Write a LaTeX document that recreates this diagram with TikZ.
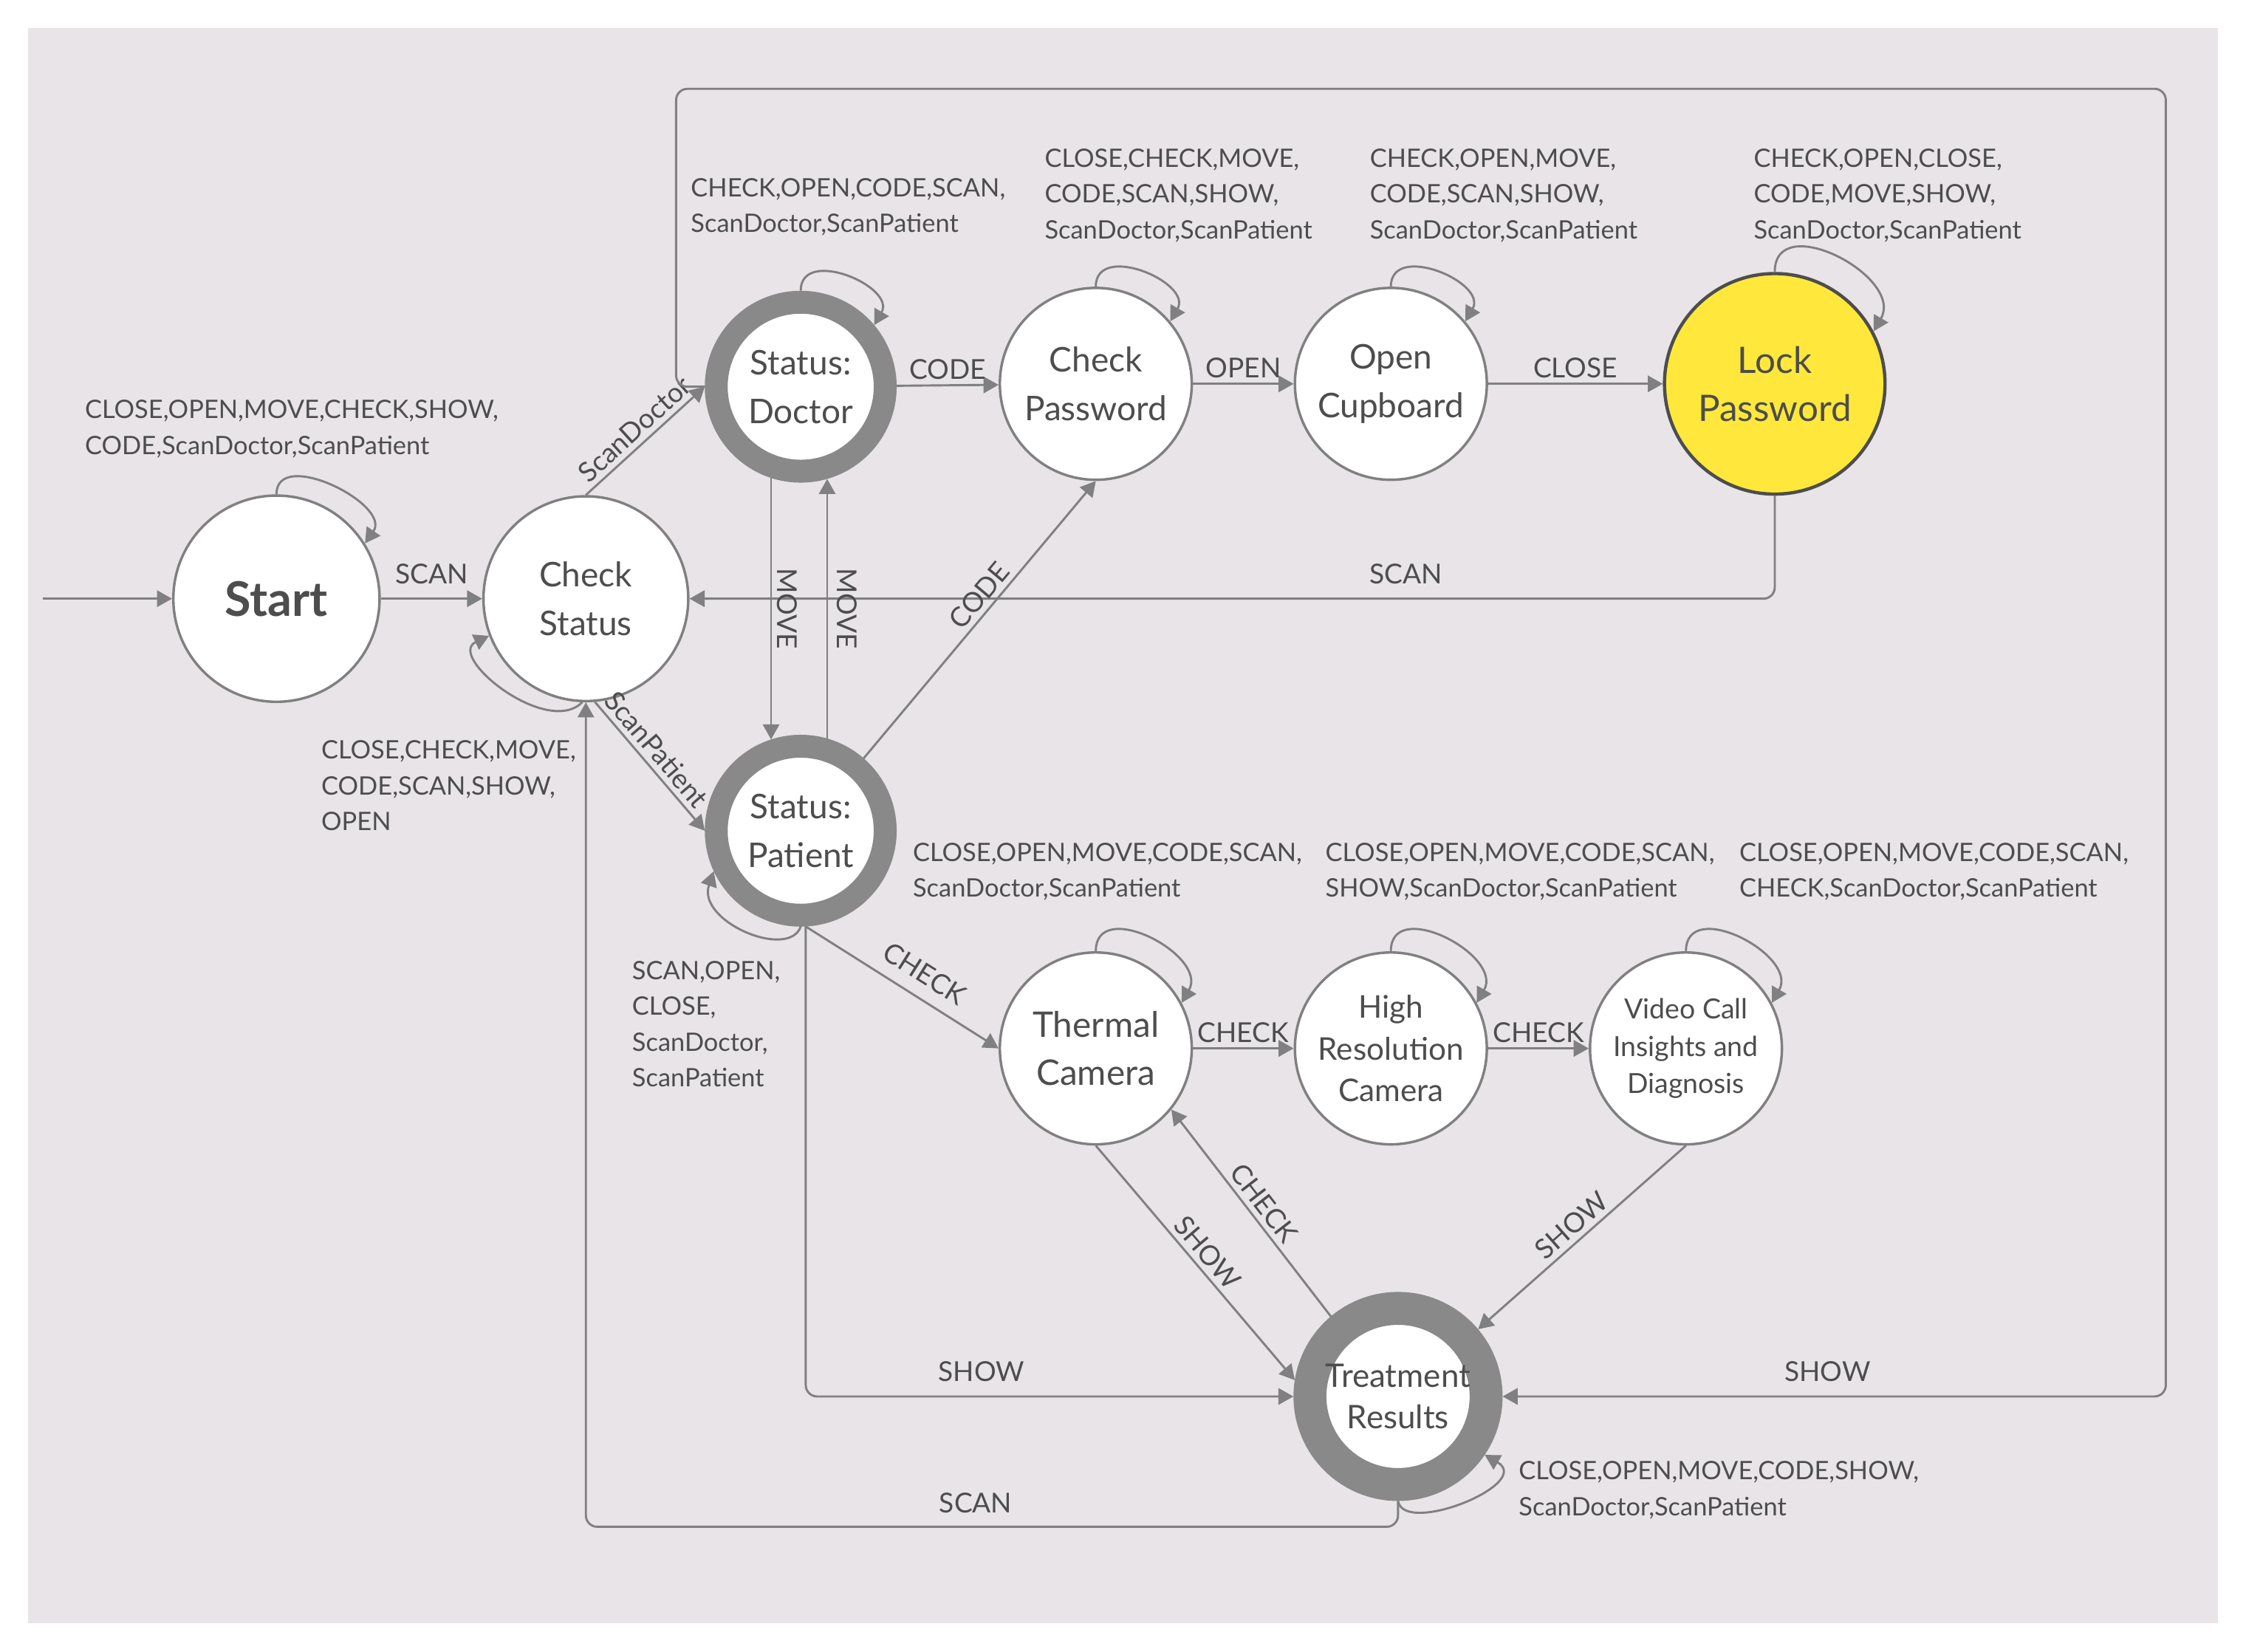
\documentclass[tikz,border=0pt]{standalone}
\usepackage{fontspec}
\setmainfont{Lato}
\usetikzlibrary{arrows.meta}
\definecolor{paneGray}{HTML}{E8E4E8}
\definecolor{lineGray}{HTML}{808080}
\definecolor{ringGray}{HTML}{898989}
\definecolor{textGray}{HTML}{4D4D4D}
\definecolor{lockYellow}{HTML}{FFE83B}
\tikzstyle{plainState}=[shape = circle, minimum size = 2.68cm, inner sep = 0pt, draw = lineGray, line width = 1pt, fill = white, text = textGray, align = center, font = \fontsize{13.5}{19.3}\selectfont]
\tikzstyle{ringState}=[plainState, minimum size = 2.36cm, draw = ringGray, line width = 0.32cm]
\tikzstyle{transition}=[draw = lineGray, line width = 0.85pt, -{Triangle[length=6pt,width=6.5pt]}]
\tikzstyle{selfLoop}=[transition, out = 90, in = 60, looseness = 1.4]
\tikzstyle{edgeLabel}=[text = textGray, font = \fontsize{10.9}{12}\selectfont, inner sep = 2pt]
\tikzstyle{loopLabel}=[text = textGray, font = \fontsize{10.1}{14.2}\selectfont, align = left, anchor = west, inner sep = 0pt]

\begin{document}
\begin{tikzpicture}[x = 0.02cm, y = 0.02cm]
\useasboundingbox (0,0) rectangle (1568,-1153);
\fill[paneGray] (19.6,-19.6) rectangle (1548.4,-1133.4);
\node[plainState, minimum size = 2.88cm, font = \fontsize{19}{23}\selectfont\bfseries] (v0) at (193,-418) {Start};
\node[plainState, minimum size = 2.86cm] (v1) at (409,-418) {Check\\Status};
\node[ringState] (v2) at (559,-270) {Status:\\Doctor};
\node[plainState] (v3) at (765,-268) {Check\\Password};
\node[plainState] (v4) at (971,-268) {Open\\Cupboard};
\node[plainState, minimum size = 3.08cm, fill = lockYellow, draw = textGray, line width = 1.3pt, font = \fontsize{14.5}{19}\selectfont] (v5) at (1239,-268) {Lock\\Password};
\node[ringState] (v6) at (559,-580) {Status:\\Patient};
\node[plainState, font = \fontsize{14}{19.3}\selectfont] (v7) at (765,-732) {Thermal\\Camera};
\node[plainState, font = \fontsize{12.4}{16.7}\selectfont] (v8) at (971,-732) {High\\Resolution\\Camera};
\node[plainState, font = \fontsize{11}{14.8}\selectfont] (v9) at (1177,-732) {Video Call\\Insights and\\Diagnosis};
\node[ringState, minimum size = 2.46cm, line width = 0.46cm, font = \fontsize{12.9}{16.5}\selectfont] (v10) at (976,-975) {Treatment\\Results};
\coordinate (in) at (30,-418);
\coordinate (top) at (1512,-62);
\draw[transition] (in) -- (v0);
\draw[transition] (v0) -- node[edgeLabel, above = 3.5pt] (e0) {SCAN} (v1);
\draw[transition] (v1.north) -- node[edgeLabel, above, sloped] (e1) {ScanDoctor} (v2.west);
\draw[transition] (v1.-85) -- node[edgeLabel, above, sloped, pos = 0.45] (e2) {ScanPatient} (v6.west);
\draw[transition] (v2) -- node[edgeLabel, above] (e3) {CODE} (v3);
\draw[transition] (v3) -- node[edgeLabel, above] (e4) {OPEN} (v4);
\draw[transition] (v4) -- node[edgeLabel, above] (e5) {CLOSE} (v5);
\draw[transition, rounded corners = 4.5pt] (v5.south) |- node[edgeLabel, above = 3.5pt, pos = 0.67] (e6) {SCAN} (v1.east);
\draw[transition] (v2.252) -- node[edgeLabel, anchor = south, rotate = -90] (e7) {MOVE} (v6.108);
\draw[transition] (v6.74) -- node[edgeLabel, anchor = south, rotate = -90, yshift = 1.5pt] (e8) {MOVE} (v2.286);
\draw[transition] (v6.49) -- node[edgeLabel, above, sloped, pos = 0.55] (e9) {CODE} (v3.south);
\draw[transition] (v6.-87) -- node[edgeLabel, above = 3pt, sloped, pos = 0.55] (e10) {CHECK} (v7.west);
\draw[transition, rounded corners = 4.5pt] (v6.-87) |- node[edgeLabel, above = 3.5pt, pos = 0.68] (e11) {SHOW} (v10.west);
\draw[transition] (v7) -- node[edgeLabel, above] (e12) {CHECK} (v8);
\draw[transition] (v8) -- node[edgeLabel, above] (e13) {CHECK} (v9);
\draw[transition] (v7.south) -- node[edgeLabel, above, sloped] (e14) {SHOW} (v10.171);
\draw[transition] (v10.130) -- node[edgeLabel, above, sloped] (e15) {CHECK} (v7.-39);
\draw[transition] (v9.south) -- node[edgeLabel, above, sloped] (e16) {SHOW} (v10.40);
\draw[transition, rounded corners = 4.5pt] (v2.west) -- ++(-20,0) |- (top) |- node[edgeLabel, above = 3.5pt, pos = 0.755] (e17) {SHOW} (v10.east);
\draw[transition, rounded corners = 4.5pt] (v10.south) -- ++(0,-18) -| node[edgeLabel, above = 3pt, pos = 0.26] (e18) {SCAN} (v1.south);
\draw[selfLoop, in = 55, looseness = 1.2] (v0.90) to (v0.32);
\draw[transition] (v1.268) to[out = 225, in = 205, out distance = 0.7cm, in distance = 0.67cm] (v1.201);
\draw[selfLoop] (v2.90) to (v2.40);
\draw[selfLoop] (v3.90) to (v3.40);
\draw[selfLoop] (v4.90) to (v4.40);
\draw[selfLoop] (v5.90) to (v5.28);
\draw[transition] (v6.-90) to[out = 250, in = 251, out distance = 0.5cm, in distance = 0.74cm] (v6.205);
\draw[selfLoop] (v7.90) to (v7.28);
\draw[selfLoop] (v8.90) to (v8.28);
\draw[selfLoop] (v9.90) to (v9.28);
\draw[transition] (v10.-90) to[out = -80, in = -30, out distance = 0.5cm, in distance = 0.8cm] (v10.-34);
\node[loopLabel] (l0) at (59,-299.5) {CLOSE,OPEN,MOVE,CHECK,SHOW,\\CODE,ScanDoctor,ScanPatient};
\node[loopLabel] (l1) at (224,-548.5) {CLOSE,CHECK,MOVE,\\CODE,SCAN,SHOW,\\OPEN};
\node[loopLabel] (l2) at (482,-144.5) {CHECK,OPEN,CODE,SCAN,\\ScanDoctor,ScanPatient};
\node[loopLabel] (l3) at (729,-136.5) {CLOSE,CHECK,MOVE,\\CODE,SCAN,SHOW,\\ScanDoctor,ScanPatient};
\node[loopLabel] (l4) at (956,-136.5) {CHECK,OPEN,MOVE,\\CODE,SCAN,SHOW,\\ScanDoctor,ScanPatient};
\node[loopLabel] (l5) at (1224,-136.5) {CHECK,OPEN,CLOSE,\\CODE,MOVE,SHOW,\\ScanDoctor,ScanPatient};
\node[loopLabel] (l6) at (441,-715) {SCAN,OPEN,\\CLOSE,\\ScanDoctor,\\ScanPatient};
\node[loopLabel] (l7) at (637,-608.5) {CLOSE,OPEN,MOVE,CODE,SCAN,\\ScanDoctor,ScanPatient};
\node[loopLabel] (l8) at (925,-608.5) {CLOSE,OPEN,MOVE,CODE,SCAN,\\SHOW,ScanDoctor,ScanPatient};
\node[loopLabel] (l9) at (1214,-608.5) {CLOSE,OPEN,MOVE,CODE,SCAN,\\CHECK,ScanDoctor,ScanPatient};
\node[loopLabel] (l10) at (1060,-1040.5) {CLOSE,OPEN,MOVE,CODE,SHOW,\\ScanDoctor,ScanPatient};
\end{tikzpicture}
\end{document}
